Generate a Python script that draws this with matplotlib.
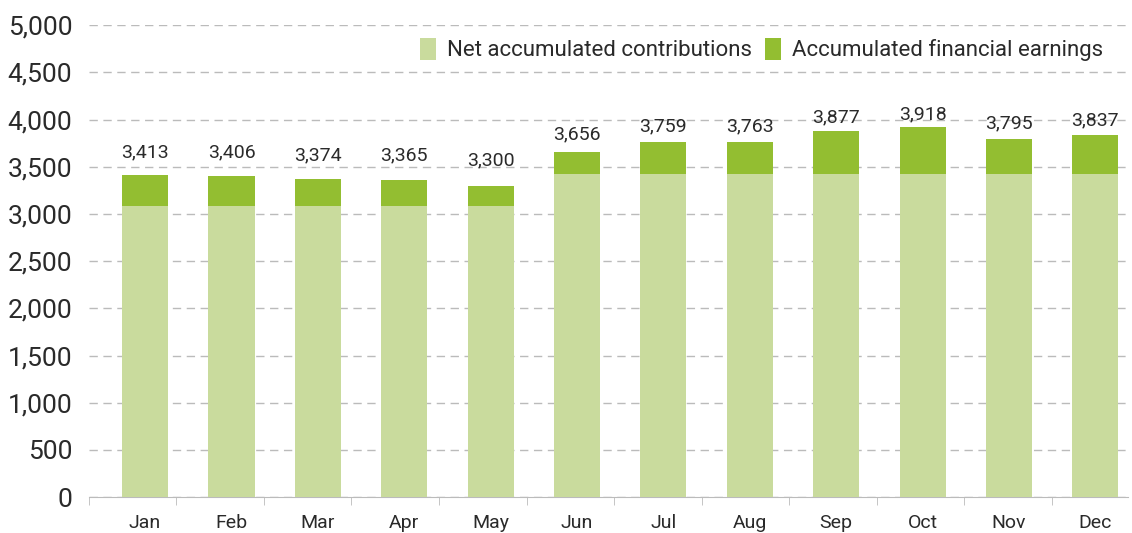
import numpy as np
import matplotlib.pyplot as plt
from matplotlib.ticker import FuncFormatter, FixedLocator

plt.rcParams['font.family'] = ['Roboto', 'DejaVu Sans']

months = ['Jan', 'Feb', 'Mar', 'Apr', 'May', 'Jun', 'Jul', 'Aug', 'Sep', 'Oct', 'Nov', 'Dec']
totals = [3413, 3406, 3374, 3365, 3300, 3656, 3759, 3763, 3877, 3918, 3795, 3837]
contributions = [3085, 3085, 3085, 3085, 3085, 3420, 3420, 3420, 3420, 3420, 3420, 3420]
earnings = [t - c for t, c in zip(totals, contributions)]

light = '#c9db9d'
dark = '#93be31'
txt = '#2a2a2a'

fig = plt.figure(figsize=(11.32, 5.33), dpi=100)
ax = fig.add_axes([0.0786, 0.0675, 0.918, 0.885])

x = np.arange(len(months))
ax.bar(x, contributions, width=0.533, color=light, label='Net accumulated contributions', zorder=3)
ax.bar(x, earnings, width=0.533, bottom=contributions, color=dark, label='Accumulated financial earnings', zorder=3)

# value labels sit a bit closer to the taller bars
for i, t in enumerate(totals):
    ax.text(x[i], 3602 + (t - totals[0]) * 0.796, f'{t:,}', ha='center', va='baseline',
            fontsize=14, color=txt)

ax.set_xlim(-0.65, 11.38)
ax.set_ylim(0, 5000)
ax.set_yticks(np.arange(0, 5001, 500))
ax.yaxis.set_major_formatter(FuncFormatter(lambda v, p: f'{int(v):,}'))
ax.grid(axis='y', color='#bbbbbb', linestyle=(0, (6, 4)), linewidth=1, zorder=0)

ax.set_xticks(x)
ax.set_xticklabels(months, fontsize=14, color=txt)
ax.xaxis.set_minor_locator(FixedLocator(-0.65 + np.arange(len(months)) * 1.013))
ax.tick_params(axis='x', which='major', length=0, pad=12)
ax.tick_params(axis='x', which='minor', length=6, color='#bbbbbb')
ax.tick_params(axis='y', length=0, labelsize=19, pad=12, labelcolor=txt)

for s in ['top', 'right', 'left']:
    ax.spines[s].set_visible(False)
ax.spines['bottom'].set_color('#bbbbbb')

leg = ax.legend(loc='upper right', bbox_to_anchor=(0.995, 1.015), ncol=2, frameon=False, fontsize=16,
                handlelength=0.7, handleheight=1.1, handletextpad=0.5, columnspacing=0.6)
for t in leg.get_texts():
    t.set_color(txt)

plt.savefig('out.png')
